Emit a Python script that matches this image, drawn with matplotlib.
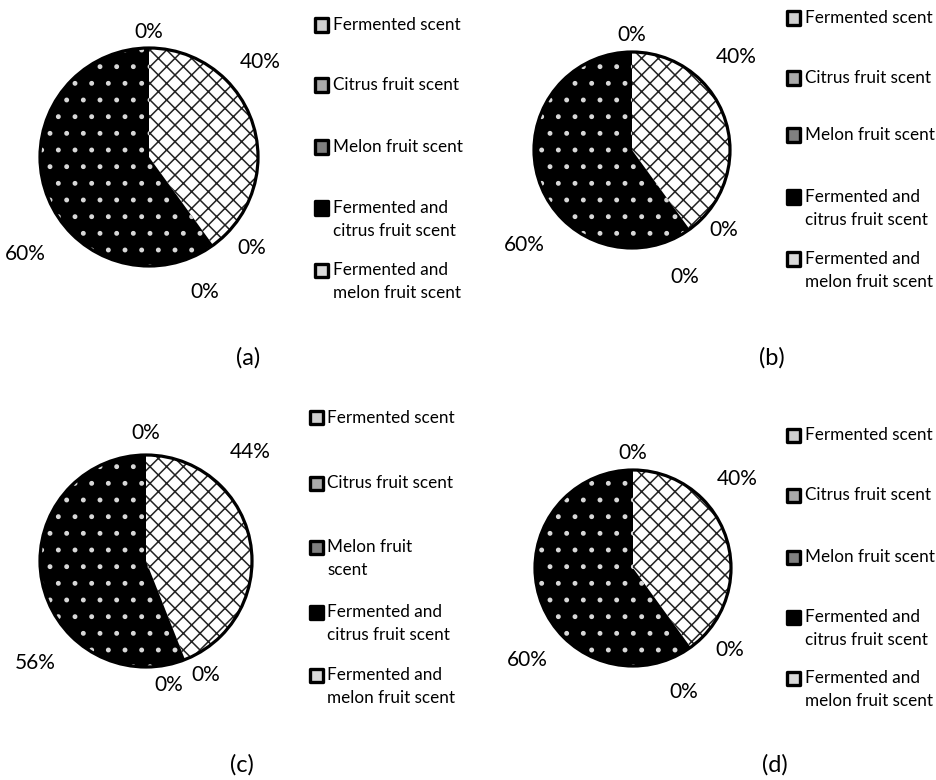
import numpy as np
import matplotlib
matplotlib.use("Agg")
import matplotlib.pyplot as plt
from matplotlib.patches import Circle, Rectangle

plt.rcParams['font.family'] = ['Lato', 'DejaVu Sans']
plt.rcParams['hatch.linewidth'] = 1.1

W, H = 937, 780

# data
categories = ["Fermented scent", "Citrus fruit scent", "Melon fruit scent",
              "Fermented and citrus fruit scent", "Fermented and melon fruit scent"]
values_a = [40, 0, 0, 60, 0]
values_b = [40, 0, 0, 60, 0]
values_c = [44, 0, 0, 56, 0]
values_d = [40, 0, 0, 60, 0]
captions = ["(a)", "(b)", "(c)", "(d)"]

legend_std = ["Fermented scent", "Citrus fruit scent", "Melon fruit scent",
              "Fermented and\ncitrus fruit scent", "Fermented and\nmelon fruit scent"]
legend_c = ["Fermented scent", "Citrus fruit scent", "Melon fruit\nscent",
            "Fermented and\ncitrus fruit scent", "Fermented and\nmelon fruit scent"]

# slice styles
face = ['white', '#bfbfbf', '#808080', 'black', '#d9d9d9']
hatches = ['xx', '', '', '.', '']
hatch_col = ['#222222', 'black', 'black', '#d8d8d8', 'black']
marker_fill = ['#d0d0d0', '#aaaaaa', '#808080', 'black', '#d9d9d9']

# layout in pixels
panels = [
    dict(vals=values_a, legend=legend_std, c=(149, 157), r=109,
         dang=[22.7, 12.7, -13.5, 20.2, 0], drad=[1.34, 1.26, 1.34, 1.44, 1.15],
         ly=[25, 85, 147, 208, 270], mx=315, tx=333, cap=(248, 358)),
    dict(vals=values_b, legend=legend_std, c=(632, 150), r=98,
         dang=[23.7, 12.8, -13.5, 23.5, 0], drad=[1.43, 1.24, 1.40, 1.47, 1.17],
         ly=[18, 78, 135, 197, 259], mx=787, tx=805, cap=(772, 358)),
    dict(vals=values_c, legend=legend_c, c=(146, 561), r=106,
         dang=[35.4, 6.0, -11.3, 31.9, 0], drad=[1.42, 1.21, 1.19, 1.42, 1.21],
         ly=[418, 483, 547, 612, 675], mx=310, tx=327, cap=(242, 765)),
    dict(vals=values_d, legend=legend_std, c=(633, 568), r=98,
         dang=[22.7, 13.6, -13.6, 22.8, 0], drad=[1.40, 1.29, 1.37, 1.43, 1.17],
         ly=[435, 495, 557, 617, 678], mx=787, tx=805, cap=(775, 765)),
]

fig = plt.figure(figsize=(W / 100, H / 100), dpi=100)

for p, caption in zip(panels, captions):
    cx, cy = p['c']
    r = p['r']
    ax = fig.add_axes([(cx - r) / W, 1 - (cy + r) / H, 2 * r / W, 2 * r / H])
    wedges, _ = ax.pie(p['vals'], startangle=90, counterclock=False, colors=face,
                       wedgeprops=dict(linewidth=0))
    for w, hc, ht in zip(wedges, hatch_col, hatches):
        w.set_edgecolor(hc)
        w.set_hatch(ht)
        w.set_linewidth(0)
    ax.add_patch(Circle((0, 0), 1, fill=False, ec='black', lw=2.3, clip_on=False))
    ax.set_xlim(-1, 1)
    ax.set_ylim(-1, 1)
    ax.axis('off')

    # percentage labels
    vals = np.array(p['vals'], dtype=float)
    frac = vals / vals.sum()
    start = np.concatenate([[0], np.cumsum(frac)[:-1]])
    mid = 90 - 360 * (start + frac / 2)
    for m, da, dr, f in zip(mid, p['dang'], p['drad'], frac):
        a = np.deg2rad(m + da)
        ax.text(dr * np.cos(a), dr * np.sin(a), "{:.0f}%".format(f * 100),
                ha='center', va='center', fontsize=15, clip_on=False)

    # legend
    for y, lab, fc in zip(p['ly'], p['legend'], marker_fill):
        sz = 13
        fig.add_artist(Rectangle((p['mx'] / W, 1 - (y + sz / 2) / H), sz / W, sz / H,
                                 transform=fig.transFigure, fc=fc, ec='black',
                                 lw=2.4, joinstyle='round'))
        for k, line in enumerate(lab.split("\n")):
            fig.text(p['tx'] / W, 1 - (y + 23 * k) / H, line, ha='left',
                     va='center', fontsize=12.3)

    cpx, cpy = p['cap']
    fig.text(cpx / W, 1 - cpy / H, caption, ha='center', va='center', fontsize=17)

fig.savefig("out.png", dpi=100, facecolor='white')
